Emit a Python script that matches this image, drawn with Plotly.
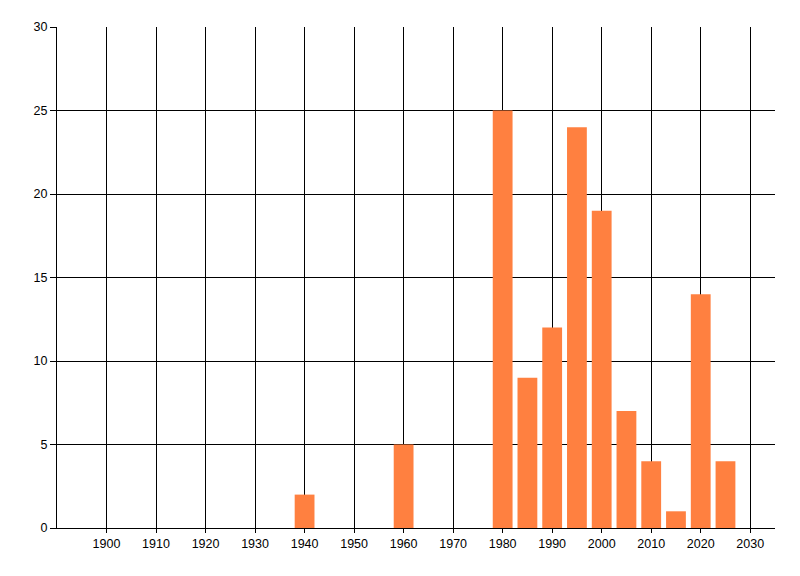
import plotly.graph_objects as go

years = [1940, 1960, 1980, 1985, 1990, 1995, 2000, 2005, 2010, 2015, 2020, 2025]
counts = [2, 5, 25, 9, 12, 24, 19, 7, 4, 1, 14, 4]
x_ticks = list(range(1900, 2031, 10))
y_ticks = [0, 5, 10, 15, 20, 25, 30]

fig = go.Figure(go.Bar(x=years, y=counts, width=4, marker=dict(color="#FF8040", line=dict(width=0))))

# page body has an 8px default margin, so the figure is sized to fit the window
fig.update_layout(
    width=792, height=568,
    margin=dict(l=49, r=25, t=19, b=48),
    paper_bgcolor="white", plot_bgcolor="white",
    font=dict(family="Liberation Sans, Arial, sans-serif", size=12.5, color="black"),
    showlegend=False,
)
fig.update_xaxes(range=[1890, 2035], tickvals=x_ticks, ticktext=[str(v) for v in x_ticks],
                 showgrid=True, gridcolor="black", gridwidth=1,
                 showline=True, linecolor="black", linewidth=1,
                 ticks="outside", ticklen=4, tickcolor="black", zeroline=False)
fig.update_yaxes(range=[0, 30], tickvals=y_ticks,
                 showgrid=True, gridcolor="black", gridwidth=1,
                 showline=True, linecolor="black", linewidth=1,
                 ticks="outside", ticklen=6, tickcolor="black", zeroline=False)

fig.write_html("out.html")
